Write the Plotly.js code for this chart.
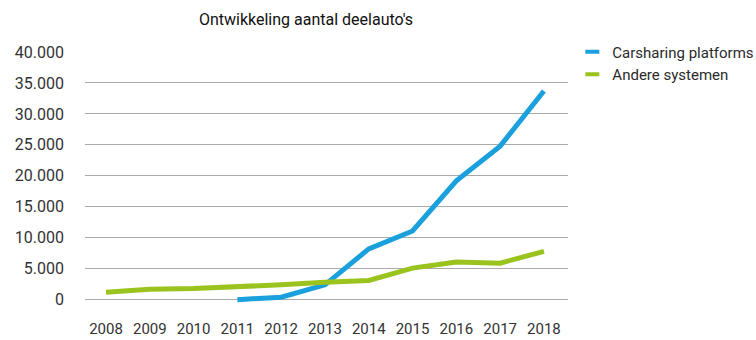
<!DOCTYPE html>
<html><head><meta charset="utf-8">
<script src="https://cdn.plot.ly/plotly-3.0.1.min.js"></script>
<style>html,body{margin:0;padding:0;background:#fff}#chart{width:756px;height:340px}</style>
</head><body><div id="chart"></div>
<script>
const years = [2008, 2009, 2010, 2011, 2012, 2013, 2014, 2015, 2016, 2017, 2018];
const platformYears = [2011, 2012, 2013, 2014, 2015, 2016, 2017, 2018];
const platformValues = [0, 400, 2400, 8200, 11100, 19200, 24800, 33700];
const otherValues = [1200, 1700, 1800, 2000, 2400, 2800, 3100, 5100, 6100, 5900, 7800];
const seriesNames = ['Carsharing platforms', 'Andere systemen'];
const yTicks = [0, 5000, 10000, 15000, 20000, 25000, 30000, 35000, 40000];
const titleText = "Ontwikkeling aantal deelauto's";

const blue = '#1aa0dc', green = '#9bc31e';
const font = 'Roboto, "Open Sans", sans-serif';

const traces = [
  {x: platformYears, y: platformValues, mode: 'lines', line: {color: blue, width: 5}, showlegend: false, hoverinfo: 'skip'},
  {x: years, y: otherValues, mode: 'lines', line: {color: green, width: 5}, showlegend: false, hoverinfo: 'skip'},
  {x: [null], y: [null], name: seriesNames[0], mode: 'markers', marker: {symbol: 'line-ew', size: 10, color: blue, line: {color: blue, width: 4}}},
  {x: [null], y: [null], name: seriesNames[1], mode: 'markers', marker: {symbol: 'line-ew', size: 10, color: green, line: {color: green, width: 4}}}
];

const layout = {
  width: 756, height: 340,
  margin: {l: 85, r: 188, t: 52, b: 36, autoexpand: false},
  paper_bgcolor: '#fff', plot_bgcolor: '#fff',
  separators: ',.',
  font: {family: font, size: 15, color: '#333'},
  title: {text: titleText, font: {family: font, size: 16, color: '#111'}, xref: 'container', x: 306/756, xanchor: 'center', yref: 'container', y: 1 - 19/340, yanchor: 'middle'},
  xaxis: {range: [2007.52, 2018.55], tickmode: 'array', tickvals: years, ticktext: years.map(String), showgrid: false, zeroline: false, showline: false, ticks: '', ticklabelstandoff: 14, tickfont: {size: 15, color: '#333'}, fixedrange: true},
  yaxis: {range: [-700, 40000], tickmode: 'array', tickvals: yTicks, tickformat: ',d', showgrid: true, gridcolor: '#aaaaaa', gridwidth: 1, zeroline: false, showline: false, ticks: '', ticklabelstandoff: 20, tickfont: {size: 16, color: '#333'}, fixedrange: true},
  showlegend: true,
  legend: {x: 1.009, xref: 'paper', xanchor: 'left', y: 1.065, yanchor: 'top', font: {size: 15, color: '#2a2a2a'}, bgcolor: 'rgba(0,0,0,0)', borderwidth: 0, tracegroupgap: 0, itemclick: false, itemdoubleclick: false}
};

Plotly.newPlot('chart', traces, layout, {displayModeBar: false, staticPlot: true});
</script></body></html>
